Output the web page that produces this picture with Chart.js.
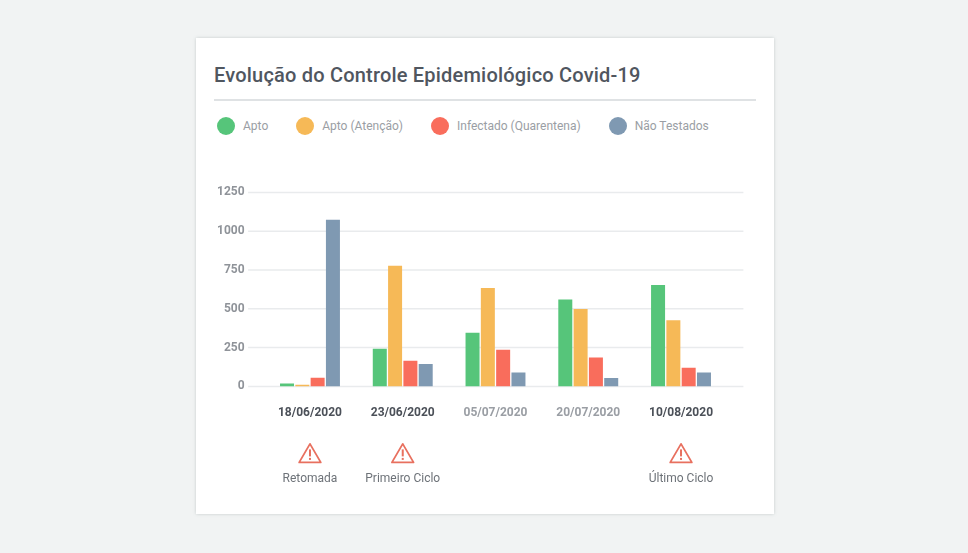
<!DOCTYPE html>
<html lang="pt-BR">
<head>
<meta charset="utf-8">
<title>Evolução do Controle Epidemiológico Covid-19</title>
<script src="https://cdn.jsdelivr.net/npm/chart.js@4"></script>
<style>
    html, body { margin: 0; height: 100%; background: #f1f3f3; overflow: hidden; }
    #card {
        position: absolute; left: 196px; top: 38px; width: 578px; height: 476px;
        background: #fff; box-shadow: 0 0 3px rgba(120, 135, 135, .35);
        font-family: Roboto, sans-serif;
    }
    #card h1 {
        position: absolute; left: 18px; top: 23px; margin: 0;
        font-size: 20px; line-height: 28px; font-weight: 500; color: #50565f; letter-spacing: .2px;
        white-space: nowrap;
    }
    #rule { position: absolute; left: 18px; top: 61px; width: 542px; height: 2px; background: #dfe2e4; }
    #legend {
        position: absolute; left: 21px; top: 79px; display: flex; gap: 28px;
        font-size: 12px; line-height: 18px; color: #9a9ea4; white-space: nowrap;
    }
    #legend span { display: flex; align-items: center; gap: 8px; }
    #legend i { width: 18px; height: 18px; border-radius: 50%; display: block; }
    canvas { position: absolute; left: 0; top: 0; }
</style>
</head>
<body>
<div id="card">
    <h1>Evolução do Controle Epidemiológico Covid-19</h1>
    <div id="rule"></div>
    <div id="legend"></div>
    <canvas id="controleChart" width="578" height="476"></canvas>
</div>
<script>
const datas = ['18/06/2020', '23/06/2020', '05/07/2020', '20/07/2020', '10/08/2020'];
const marcos = ['Retomada', 'Primeiro Ciclo', '', '', 'Último Ciclo'];
const apto = [18, 243, 346, 560, 653];
const aptoAtencao = [10, 777, 634, 498, 427];
const infectado = [56, 165, 236, 187, 120];
const naoTestados = [1074, 144, 90, 54, 90];

const cores = { apto: '#56c57a', atencao: '#f6b957', infectado: '#f96d5c', naoTestados: '#7f99b2' };

// linhas de grade passam um pouco das pontas da área do gráfico
const gradeLarga = {
    id: 'gradeLarga',
    beforeDatasetsDraw(chart) {
        const { ctx, chartArea, scales } = chart;
        ctx.save();
        ctx.strokeStyle = '#e9ebed';
        ctx.lineWidth = 1.5;
        scales.y.ticks.forEach(t => {
            const y = scales.y.getPixelForValue(t.value);
            ctx.beginPath();
            ctx.moveTo(chartArea.left - 15.5, y);
            ctx.lineTo(chartArea.right + 16, y);
            ctx.stroke();
        });
        ctx.restore();
    }
};

// triângulo de alerta e nome do marco abaixo de cada data
const marcosPlugin = {
    id: 'marcos',
    afterDraw(chart) {
        const { ctx, scales, chartArea } = chart;
        marcos.forEach((texto, i) => {
            if (!texto) return;
            const x = scales.x.getPixelForValue(i);
            const base = chartArea.bottom;
            ctx.save();
            ctx.strokeStyle = '#e8705f';
            ctx.fillStyle = '#e8705f';
            ctx.lineWidth = 1.8;
            ctx.lineJoin = 'round';
            ctx.beginPath();
            ctx.moveTo(x, base + 57.5);
            ctx.lineTo(x + 10.8, base + 76);
            ctx.lineTo(x - 10.8, base + 76);
            ctx.closePath();
            ctx.stroke();
            ctx.fillRect(x - 1, base + 63, 2, 7);
            ctx.fillRect(x - 1, base + 71.5, 2, 2);
            ctx.font = '12px Roboto, sans-serif';
            ctx.fillStyle = '#6d7278';
            ctx.textAlign = 'center';
            ctx.textBaseline = 'middle';
            ctx.fillText(texto, x, base + 92.5);
            ctx.restore();
        });
    }
};

const grafico = new Chart(document.getElementById('controleChart'), {
    type: 'bar',
    data: {
        labels: datas,
        datasets: [
            { label: 'Apto', data: apto, backgroundColor: cores.apto },
            { label: 'Apto (Atenção)', data: aptoAtencao, backgroundColor: cores.atencao },
            { label: 'Infectado (Quarentena)', data: infectado, backgroundColor: cores.infectado },
            { label: 'Não Testados', data: naoTestados, backgroundColor: cores.naoTestados }
        ]
    },
    options: {
        responsive: false,
        animation: false,
        devicePixelRatio: 1,
        categoryPercentage: 0.66,
        barPercentage: 0.915,
        layout: { padding: { top: 154.4, right: 46.6, bottom: 0, left: 0 } },
        plugins: {
            legend: { display: false },
            tooltip: { enabled: false }
        },
        scales: {
            x: {
                afterFit(scale) { scale.height = 127.6; },
                grid: { display: false, drawTicks: false },
                border: { display: false },
                ticks: {
                    padding: 19,
                    maxRotation: 0,
                    autoSkip: false,
                    font: { family: 'Roboto, sans-serif', size: 12, weight: '700' },
                    color: ctx => marcos[ctx.index] ? '#4b5058' : '#9a9ea4'
                }
            },
            y: {
                min: 0,
                max: 1250,
                afterFit(scale) { scale.width = 67.6; },
                grid: { display: false, drawTicks: false },
                border: { display: false },
                ticks: {
                    stepSize: 250,
                    padding: 19,
                    callback: v => String(v),
                    font: { family: 'Roboto, sans-serif', size: 12, weight: '700' },
                    color: '#8f9399'
                }
            }
        }
    },
    plugins: [gradeLarga, marcosPlugin]
});

// legenda em HTML, montada a partir dos datasets
const legenda = document.getElementById('legend');
grafico.data.datasets.forEach(ds => {
    const item = document.createElement('span');
    const bola = document.createElement('i');
    bola.style.background = ds.backgroundColor;
    item.appendChild(bola);
    item.appendChild(document.createTextNode(ds.label));
    legenda.appendChild(item);
});
</script>
</body>
</html>
